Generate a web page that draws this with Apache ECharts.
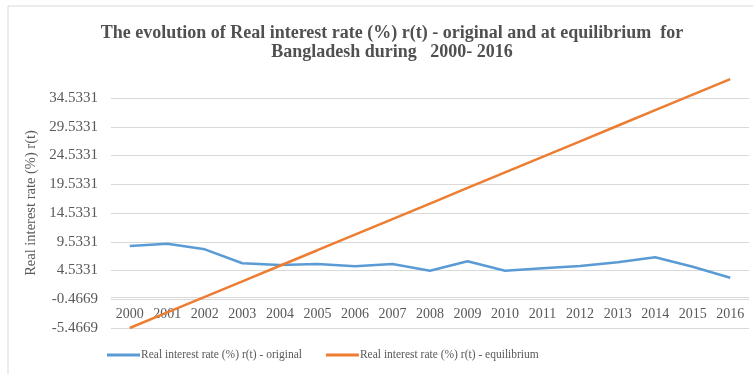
<!DOCTYPE html>
<html>
<head>
<meta charset="utf-8">
<script src="https://cdn.jsdelivr.net/npm/echarts@6/dist/echarts.min.js"></script>
<style>
  html, body { margin: 0; padding: 0; background: #fff; }
  #chart { width: 753px; height: 374px; }
</style>
</head>
<body>
<div id="chart"></div>
<script>
var years = ["2000", "2001", "2002", "2003", "2004", "2005", "2006", "2007", "2008",
  "2009", "2010", "2011", "2012", "2013", "2014", "2015", "2016"];
var original = [8.79, 9.19, 8.22, 5.79, 5.49, 5.66, 5.26, 5.66, 4.50,
  6.13, 4.50, 4.92, 5.32, 5.96, 6.83, 5.19, 3.28];
var equilibrium = [-5.47, -2.76, -0.05, 2.65, 5.36, 8.06, 10.77, 13.47, 16.18,
  18.89, 21.59, 24.30, 27.00, 29.71, 32.42, 35.12, 37.83];
var yTicks = [-5.4669, -0.4669, 4.5331, 9.5331, 14.5331, 19.5331, 24.5331, 29.5331, 34.5331];

var dom = document.getElementById("chart");
var myChart = echarts.init(dom, null, { renderer: "canvas" });

var serif = "Liberation Serif";
var labelColor = "#595959";

// show the tick label from yTicks that is nearest the tick value
function tickLabel(v) {
  var best = yTicks[0];
  yTicks.forEach(function (t) {
    if (Math.abs(t - v) < Math.abs(best - v)) best = t;
  });
  return best.toFixed(4);
}

var option = {
  animation: false,
  graphic: [
    {
      type: "rect",
      shape: { x: 8, y: 6, width: 760, height: 380 },
      style: { fill: "none", stroke: "#d9d9d9", lineWidth: 1 }
    }
  ],
  title: {
    text: "The evolution of Real interest rate (%) r(t) - original and at equilibrium  for\nBangladesh during   2000- 2016",
    left: 387,
    textAlign: "center",
    top: 19,
    textStyle: {
      fontFamily: serif,
      fontSize: 18,
      fontWeight: "bold",
      color: "#505050",
      lineHeight: 19
    }
  },
  legend: {
    left: 107,
    top: 349,
    padding: 0,
    icon: "rect",
    itemWidth: 33,
    itemHeight: 3,
    itemGap: 24,
    textStyle: { fontFamily: serif, fontSize: 11.5, color: labelColor, padding: [0, 0, 0, -4] },
    data: ["Real interest rate (%) r(t) - original", "Real interest rate (%) r(t) - equilibrium"]
  },
  grid: { left: 111, right: 4, top: 98, bottom: 46 },
  xAxis: {
    type: "category",
    data: years,
    boundaryGap: true,
    offset: -31,
    axisLine: { onZero: false, lineStyle: { color: "#d9d9d9", width: 1 } },
    axisTick: { show: false },
    axisLabel: { fontFamily: serif, fontSize: 14, color: labelColor, margin: 10 }
  },
  yAxis: {
    type: "value",
    min: yTicks[0],
    max: yTicks[yTicks.length - 1],
    interval: 5,
    name: "Real interest rate (%) r(t)",
    nameLocation: "middle",
    nameGap: 66,
    nameTextStyle: { fontFamily: serif, fontSize: 14.5, color: labelColor, padding: [0, 0, 0, 20] },
    axisLine: { show: false },
    axisTick: { show: false },
    splitLine: { lineStyle: { color: "#d9d9d9", width: 1 } },
    axisLabel: {
      fontFamily: serif, fontSize: 15, color: labelColor, margin: 13,
      formatter: tickLabel
    }
  },
  series: [
    {
      name: "Real interest rate (%) r(t) - original",
      type: "line",
      data: original,
      symbol: "none",
      clip: false,
      lineStyle: { color: "#5b9bd5", width: 2.5 },
      itemStyle: { color: "#5b9bd5" }
    },
    {
      name: "Real interest rate (%) r(t) - equilibrium",
      type: "line",
      data: equilibrium,
      symbol: "none",
      clip: false,
      lineStyle: { color: "#ed7d31", width: 2.5 },
      itemStyle: { color: "#ed7d31" }
    }
  ]
};

myChart.setOption(option);
window.addEventListener("resize", myChart.resize);
</script>
</body>
</html>
